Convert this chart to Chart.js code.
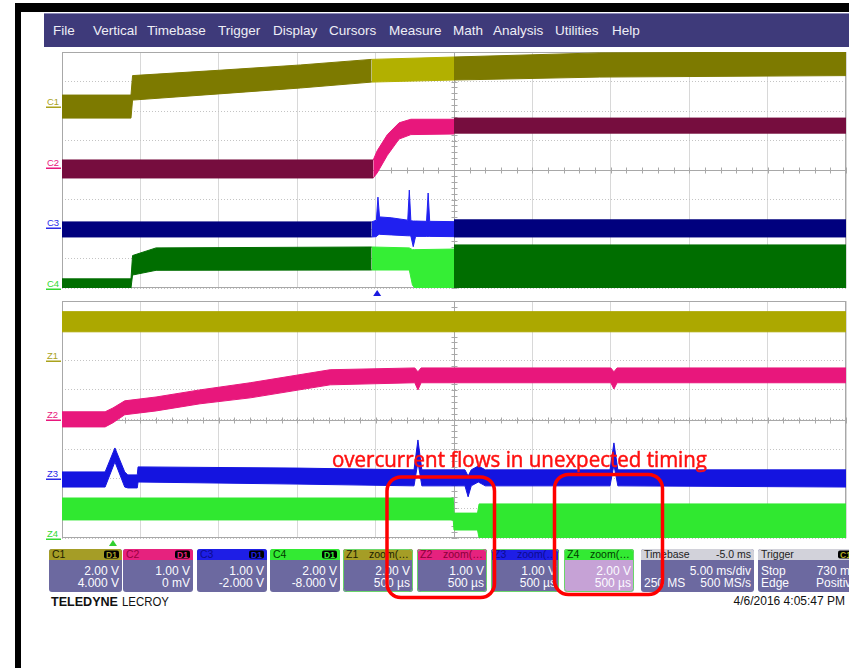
<!DOCTYPE html>
<html><head><meta charset="utf-8">
<script src="https://cdn.jsdelivr.net/npm/chart.js@4.4.1/dist/chart.umd.min.js"></script>
<style>
html,body{margin:0;padding:0;background:#fff;width:849px;height:668px;overflow:hidden;}
#bg,#ov{position:absolute;left:0;top:0;}
#bg{z-index:0}
#ov{z-index:3;pointer-events:none}
canvas{position:absolute;z-index:2;}
#up{left:56px;top:46px;}
#lo{left:56px;top:295px;}
text{font-family:"Liberation Sans",Arial,sans-serif;}
</style>
</head><body>
<svg id="bg" width="849" height="668"></svg>
<canvas id="up" width="793" height="252"></canvas>
<canvas id="lo" width="793" height="253"></canvas>
<svg id="ov" width="849" height="668"></svg>
<script>
// ---------- DATA (x in time divisions 0..10, y in vertical divisions 0..8) ----------
// Upper display: channels C1..C4 (band envelopes: top / bottom)
const c1aX   = [0, 0.88, 0.90, 2.0, 3.04, 3.95];
const c1aTop = [6.54, 6.54, 7.20, 7.38, 7.56, 7.75];
const c1aBot = [5.76, 5.76, 6.37, 6.58, 6.78, 6.98];
const c1bX   = [3.95, 5.0];
const c1bTop = [7.75, 7.83];
const c1bBot = [6.98, 7.05];
const c1cX   = [5.0, 6.86, 10];
const c1cTop = [7.83, 7.97, 8.0];
const c1cBot = [7.05, 7.15, 7.2];

const c2aX   = [0, 3.97];
const c2aTop = [4.34, 4.34];
const c2aBot = [3.73, 3.73];
const c2bX   = [3.97, 4.02, 4.15, 4.30, 4.45, 5.0];
const c2bTop = [4.34, 4.65, 5.20, 5.60, 5.72, 5.72];
const c2bBot = [3.73, 3.90, 4.50, 5.05, 5.20, 5.22];
const c2cX   = [5.0, 10];
const c2cTop = [5.76, 5.76];
const c2cBot = [5.25, 5.25];

const c3aX   = [0, 3.95];
const c3aTop = [2.24, 2.24];
const c3aBot = [1.73, 1.73];
const c3bX   = [3.95, 4.01, 4.03, 4.05, 4.20, 4.41, 4.43, 4.45, 4.48, 4.51, 4.65, 4.67, 4.69, 5.0];
const c3bTop = [2.24, 2.30, 3.08, 2.41, 2.38, 2.30, 3.32, 2.28, 2.27, 2.27, 2.26, 3.22, 2.26, 2.25];
const c3bBot = [1.73, 1.74, 1.80, 1.82, 1.80, 1.77, 1.77, 1.76, 1.40, 1.75, 1.75, 1.75, 1.75, 1.74];
const c3cX   = [5.0, 10];
const c3cTop = [2.31, 2.31];
const c3cBot = [1.73, 1.73];

const c4aX   = [0, 0.88, 0.90, 1.2, 3.95];
const c4aTop = [0.31, 0.31, 1.10, 1.36, 1.39];
const c4aBot = [0.0, 0.0, 0.44, 0.60, 0.61];
const c4bX   = [3.95, 4.43, 4.47, 4.50, 5.0];
const c4bTop = [1.39, 1.36, 1.30, 1.30, 1.32];
const c4bBot = [0.61, 0.61, 0.10, 0.0, 0.0];
const c4cX   = [5.0, 10];
const c4cTop = [1.46, 1.46];
const c4cBot = [0.0, 0.0];

const upperTrigger = 4.02;

// Lower display: zoom traces Z1..Z4
const z1X   = [0, 10];
const z1Top = [7.64, 7.64];
const z1Bot = [6.96, 6.96];

const z2X   = [0, 0.55, 0.65, 0.80, 1.2, 1.76, 2.4, 3.42, 4.50, 4.54, 4.58, 7.00, 7.04, 7.08, 10];
const z2Top = [4.26, 4.26, 4.39, 4.63, 4.76, 5.00, 5.24, 5.68, 5.74, 5.61, 5.74, 5.74, 5.61, 5.74, 5.74];
const z2Bot = [3.75, 3.75, 3.89, 4.16, 4.29, 4.53, 4.73, 5.17, 5.24, 5.00, 5.24, 5.24, 5.03, 5.24, 5.24];

const z3X   = [0, 0.55, 0.675, 0.80, 0.84, 0.96, 0.97, 3.0, 4.49, 4.54, 4.59, 5.14, 5.18, 5.22, 5.31, 5.40, 6.99, 7.04, 7.09, 10];
const z3Top = [2.23, 2.23, 3.04, 2.23, 2.13, 2.13, 2.40, 2.36, 2.30, 3.31, 2.30, 2.30, 2.09, 2.30, 2.43, 2.30, 2.30, 3.21, 2.30, 2.30];
const z3Bot = [1.72, 1.72, 2.57, 1.72, 1.69, 1.69, 1.89, 1.82, 1.76, 2.57, 1.76, 1.76, 1.39, 1.76, 1.89, 1.76, 1.76, 2.47, 1.76, 1.72];

const z4X   = [0, 4.99, 5.0, 5.30, 5.32, 10];
const z4Top = [1.35, 1.35, 0.84, 0.84, 1.15, 1.15];
const z4Bot = [0.61, 0.61, 0.27, 0.27, 0.0, 0.0];

const lowerTrigger = 0.65;

// Info panel texts
const menuItems = ["File","Vertical","Timebase","Trigger","Display","Cursors","Measure","Math","Analysis","Utilities","Help"];
const chanLabels = ["C1","C2","C3","C4","Z1","Z2","Z3","Z4"];
const boxTitles = ["C1","C2","C3","C4","Z1","Z2","Z3","Z4"];
const boxSub    = ["","","","","zoom(…","zoom(…","zoom(…","zoom(…"];
const boxLine1 = ["2.00 V","1.00 V","1.00 V","2.00 V","2.00 V","1.00 V","1.00 V","2.00 V"];
const boxLine2 = ["4.000 V","0 mV","-2.000 V","-8.000 V","500 µs","500 µs","500 µs","500 µs"];
const annotationText = "overcurrent flows in unexpected timing";
const stampText = "4/6/2016 4:05:47 PM";

// ---------- STYLE ----------
const COL = {
  c1:'#7d7a00', c1z:'#b2b000', c2:'#760d3e', c2z:'#e8177c', c3:'#00007e', c3z:'#2020f0',
  c4:'#006e00', c4z:'#35ee35', z1:'#aca800', z2:'#e8177c', z3:'#1414e0', z4:'#30e830'
};

function band(xs, top, bot, color){
  const lo = {data: xs.map((x,i)=>({x, y: bot[i]})), borderColor: color, borderWidth: 1, pointRadius: 0, fill: false};
  const hi = {data: xs.map((x,i)=>({x, y: top[i]})), borderColor: color, borderWidth: 1, pointRadius: 0, fill: '-1', backgroundColor: color};
  return [lo, hi];
}

const scopeDecor = {
  id: 'scopeDecor',
  beforeDatasetsDraw(chart, args, opts){
    const {ctx, chartArea: a, scales: {x, y}} = chart;
    ctx.save();
    ctx.strokeStyle = '#a8a8a8'; ctx.lineWidth = 1;
    ctx.strokeRect(a.left + 0.5, a.top + 0.5, a.right - a.left - 1, a.bottom - a.top - 1);
    const cx = Math.round(x.getPixelForValue(5)) + 0.5;
    const cy = Math.round(y.getPixelForValue(4)) + 0.5;
    ctx.beginPath();
    ctx.moveTo(a.left, cy); ctx.lineTo(a.right, cy);
    ctx.moveTo(cx, a.top); ctx.lineTo(cx, a.bottom);
    for (let k = 0; k <= 50; k++) { const px = Math.round(x.getPixelForValue(k / 5)) + 0.5; ctx.moveTo(px, cy - 3); ctx.lineTo(px, cy + 3); }
    for (let k = 0; k <= 40; k++) { const py = Math.round(y.getPixelForValue(k / 5)) + 0.5; ctx.moveTo(cx - 3, py); ctx.lineTo(cx + 3, py); }
    ctx.stroke();
    ctx.restore();
  },
  afterDraw(chart, args, opts){
    const {ctx, chartArea: a, scales: {x}} = chart;
    const px = x.getPixelForValue(opts.trigger);
    ctx.save();
    ctx.fillStyle = opts.color;
    ctx.beginPath();
    ctx.moveTo(px, a.bottom + 2); ctx.lineTo(px + 4, a.bottom + 8); ctx.lineTo(px - 4, a.bottom + 8); ctx.closePath();
    ctx.fill();
    ctx.restore();
  }
};

function makeChart(id, datasets, trigger, color){
  return new Chart(document.getElementById(id), {
    type: 'line',
    data: {datasets},
    options: {
      responsive: false, animation: false, devicePixelRatio: 1,
      layout: {padding: {left: 6, right: 3, top: 6, bottom: 10}},
      plugins: {legend: {display: false}, tooltip: {enabled: false}, scopeDecor: {trigger, color}},
      elements: {line: {tension: 0}, point: {radius: 0}},
      scales: {
        x: {type: 'linear', min: 0, max: 10, ticks: {display: false, stepSize: 1},
            grid: {color: '#d8d8d8', drawTicks: false}, border: {display: false},
            afterFit(s){ s.height = 0; }},
        y: {type: 'linear', min: 0, max: 8, ticks: {display: false, stepSize: 1},
            grid: {color: '#c4c4c4', drawTicks: false}, border: {display: false, dash: [1, 2]},
            afterFit(s){ s.width = 0; }}
      }
    },
    plugins: [scopeDecor]
  });
}

makeChart('up', [
  ...band(c1aX, c1aTop, c1aBot, COL.c1), ...band(c1bX, c1bTop, c1bBot, COL.c1z), ...band(c1cX, c1cTop, c1cBot, COL.c1),
  ...band(c2aX, c2aTop, c2aBot, COL.c2), ...band(c2bX, c2bTop, c2bBot, COL.c2z), ...band(c2cX, c2cTop, c2cBot, COL.c2),
  ...band(c3aX, c3aTop, c3aBot, COL.c3), ...band(c3bX, c3bTop, c3bBot, COL.c3z), ...band(c3cX, c3cTop, c3cBot, COL.c3),
  ...band(c4aX, c4aTop, c4aBot, COL.c4), ...band(c4bX, c4bTop, c4bBot, COL.c4z), ...band(c4cX, c4cTop, c4cBot, COL.c4)
], upperTrigger, '#1a1ae0');

makeChart('lo', [
  ...band(z1X, z1Top, z1Bot, COL.z1), ...band(z2X, z2Top, z2Bot, COL.z2),
  ...band(z3X, z3Top, z3Bot, COL.z3), ...band(z4X, z4Top, z4Bot, COL.z4)
], lowerTrigger, '#30d030');

// ---------- SVG chrome ----------
const NS = 'http://www.w3.org/2000/svg';
function el(parent, tag, attrs, txt){
  const e = document.createElementNS(NS, tag);
  for (const k in attrs) e.setAttribute(k, attrs[k]);
  if (txt !== undefined) e.textContent = txt;
  parent.appendChild(e); return e;
}
const bg = document.getElementById('bg');
const ov = document.getElementById('ov');

// black frame
el(bg, 'rect', {x:15, y:3, width:834, height:9, fill:'#000'});
el(bg, 'rect', {x:15, y:3, width:6, height:665, fill:'#000'});
// menu bar
el(bg, 'rect', {x:44, y:13, width:805, height:34, fill:'#3e3a7a'});
el(bg, 'rect', {x:44, y:13, width:805, height:1, fill:'#8c8ab8'});
const menuX = [53, 93, 147, 218, 273, 329, 389, 453, 493, 555, 612];
menuItems.forEach((m, i) => el(bg, 'text', {x: menuX[i], y: 35, fill: '#eeeef6', 'font-size': 13.5}, m));

// channel offset labels
const labY = [105, 166, 226, 287, 359, 418, 477, 537];
const labC = ['#aaa21c', '#e8177c', '#2a2ae8', '#33d833', '#aaa21c', '#e8177c', '#2a2ae8', '#33d833'];
chanLabels.forEach((t, i) => {
  el(bg, 'text', {x: 47, y: labY[i], fill: labC[i], 'font-size': 9.5}, t);
  el(bg, 'rect', {x: 46, y: labY[i] + 1.5, width: 15, height: 1.5, fill: labC[i]});
});

// info boxes
const boxL = [49, 123, 197, 270, 343, 417, 491, 564];
const boxW = [73, 70, 70, 70, 70, 70, 68, 70];
const hdC  = ['#a59d26', '#e6227e', '#1e1ee6', '#33ea33', '#a59d26', '#e6227e', '#1e1ee6', '#33ea33'];
const hdT  = ['#1c1c00', '#9a0040', '#0c0c90', '#003c00', '#1c1c00', '#8a0038', '#0c0c90', '#003c00'];
const BODY = '#6c69a0';
const TOP = 549, H = 43;
function boxShell(x, w, hc, body, border){
  el(bg, 'rect', {x, y: TOP, width: w, height: H, rx: 3, fill: body});
  el(bg, 'rect', {x, y: TOP, width: w, height: 11, rx: 3, fill: hc});
  el(bg, 'rect', {x, y: TOP + 5, width: w, height: 6, fill: hc});
  if (border) el(bg, 'rect', {x: x + 0.5, y: TOP + 0.5, width: w - 1, height: H - 1, rx: 3, fill: 'none', stroke: border, 'stroke-width': 1});
}
boxTitles.forEach((t, i) => {
  const x = boxL[i], w = boxW[i];
  boxShell(x, w, hdC[i], i === 7 ? '#c6a2d6' : BODY, i >= 4 ? '#6ad66a' : null);
  el(bg, 'text', {x: x + 3, y: TOP + 9, fill: hdT[i], 'font-size': 10.5}, t);
  if (boxSub[i]) el(bg, 'text', {x: x + 26, y: TOP + 9, fill: hdT[i], 'font-size': 10.5}, boxSub[i]);
  if (i < 4) {
    el(bg, 'rect', {x: x + w - 18, y: TOP + 1.5, width: 15, height: 8, rx: 2, fill: '#000'});
    el(bg, 'text', {x: x + w - 10.5, y: TOP + 8.5, fill: hdC[i], 'font-size': 8.5, 'font-weight': 'bold', 'text-anchor': 'middle'}, 'D1');
  }
  el(bg, 'text', {x: x + w - 3, y: 575, fill: '#fbfbff', 'font-size': 12, 'text-anchor': 'end'}, boxLine1[i]);
  el(bg, 'text', {x: x + w - 3, y: 587, fill: '#fbfbff', 'font-size': 12, 'text-anchor': 'end'}, boxLine2[i]);
});
// timebase
boxShell(641, 113, '#d2d2da', BODY, null);
el(bg, 'text', {x: 644, y: TOP + 9, fill: '#222', 'font-size': 10.5}, 'Timebase');
el(bg, 'text', {x: 751, y: TOP + 9, fill: '#222', 'font-size': 10.5, 'text-anchor': 'end'}, '-5.0 ms');
el(bg, 'text', {x: 751, y: 575, fill: '#fbfbff', 'font-size': 12, 'text-anchor': 'end'}, '5.00 ms/div');
el(bg, 'text', {x: 644, y: 587, fill: '#fbfbff', 'font-size': 12}, '250 MS');
el(bg, 'text', {x: 751, y: 587, fill: '#fbfbff', 'font-size': 12, 'text-anchor': 'end'}, '500 MS/s');
// trigger
boxShell(758, 103, '#d2d2da', BODY, null);
el(bg, 'text', {x: 761, y: TOP + 9, fill: '#222', 'font-size': 10.5}, 'Trigger');
el(bg, 'rect', {x: 838, y: TOP + 1.5, width: 16, height: 8, rx: 2, fill: '#000'});
el(bg, 'text', {x: 840, y: TOP + 8.5, fill: '#b5ad20', 'font-size': 8.5, 'font-weight': 'bold'}, 'C1');
el(bg, 'text', {x: 761, y: 575, fill: '#fbfbff', 'font-size': 12}, 'Stop');
el(bg, 'text', {x: 858, y: 575, fill: '#fbfbff', 'font-size': 12, 'text-anchor': 'end'}, '730 mV');
el(bg, 'text', {x: 761, y: 587, fill: '#fbfbff', 'font-size': 12}, 'Edge');
el(bg, 'text', {x: 858, y: 587, fill: '#fbfbff', 'font-size': 12, 'text-anchor': 'end'}, 'Positive');

// brand + timestamp
el(bg, 'text', {x: 51, y: 606, fill: '#111', 'font-size': 13.5, 'font-weight': 'bold', textLength: 67, lengthAdjust: 'spacingAndGlyphs'}, 'TELEDYNE');
el(bg, 'text', {x: 122, y: 606, fill: '#111', 'font-size': 13.5, textLength: 47, lengthAdjust: 'spacingAndGlyphs'}, 'LECROY');
el(bg, 'text', {x: 845, y: 605, fill: '#111', 'font-size': 12, 'text-anchor': 'end'}, stampText);

// red annotation overlay
el(ov, 'text', {x: 332, y: 467, fill: '#ff1010', stroke: '#ff1010', 'stroke-width': 0.5, 'font-size': 21, textLength: 375, lengthAdjust: 'spacingAndGlyphs', style: 'font-family:"Open Sans","Noto Sans",sans-serif'}, annotationText);
el(ov, 'rect', {x: 387, y: 477, width: 107.5, height: 120.5, rx: 14, fill: 'none', stroke: '#ff0000', 'stroke-width': 3.5});
el(ov, 'rect', {x: 554.5, y: 474.5, width: 108, height: 120, rx: 14, fill: 'none', stroke: '#ff0000', 'stroke-width': 3.5});
</script>
</body></html>
